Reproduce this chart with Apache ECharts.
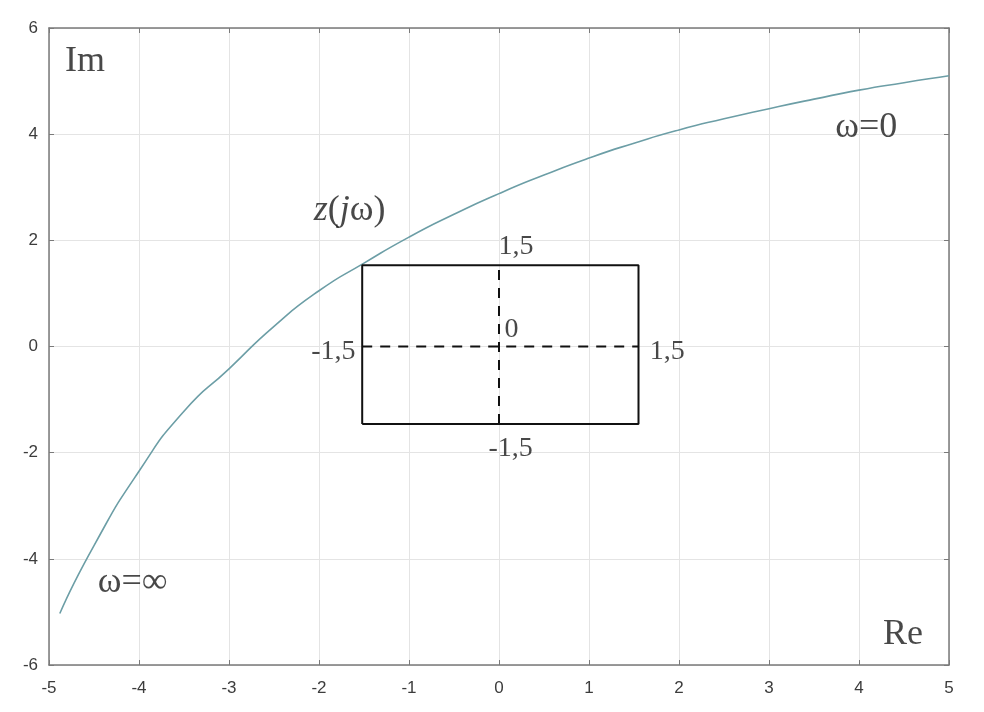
<!DOCTYPE html>
<html>
<head>
<meta charset="utf-8">
<script src="https://cdn.jsdelivr.net/npm/echarts@6/dist/echarts.min.js"></script>
<style>html,body{margin:0;padding:0;background:#fff}#c{width:984px;height:712px}</style>
</head>
<body>
<div id="c"></div>
<script>
const reValues = [-4.88, -4.5, -4.0, -3.5, -3.0, -2.5, -2.0, -1.5, -1.0, -0.5, 0.0, 0.5, 1.0, 1.5, 2.0, 2.5, 3.0, 3.5, 4.0, 4.5, 5.0];
const imValues = [-5.03, -3.75, -2.35, -1.22, -0.42, 0.38, 1.05, 1.57, 2.06, 2.49, 2.88, 3.23, 3.55, 3.83, 4.08, 4.29, 4.48, 4.66, 4.83, 4.97, 5.1];
// Rectangle bounds
const rectX = [-1.52, 1.55];
const rectY = [-1.46, 1.53];
// Tick labels
const xTicks = [-5, -4, -3, -2, -1, 0, 1, 2, 3, 4, 5];
const yTicks = [-6, -4, -2, 0, 2, 4, 6];
// Text annotations [text, re, im]
const bigLabels = [["Im", -4.6, 5.36], ["Re", 4.49, -5.42], ["ω=0", 4.08, 4.12], ["ω=∞", -4.07, -4.44], ["{i|z}({i|j}ω)", -1.66, 2.57]];
const smallLabels = [["1,5", 0.19, 1.89], ["-1,5", -1.84, -0.1], ["0", 0.14, 0.31], ["1,5", 1.87, -0.1], ["-1,5", 0.13, -1.93]];

const curve = reValues.map((r, i) => [r, imValues[i]]);
const rect = [[rectX[0], rectY[0]], [rectX[1], rectY[0]], [rectX[1], rectY[1]], [rectX[0], rectY[1]], [rectX[0], rectY[0]]];
const hDash = [[rectX[0], 0], [rectX[1], 0]];
const vDash = [[0, rectY[0]], [0, rectY[1]]];

const axisCol = '#7a7a7a';
const gridCol = '#e4e4e4';
const tickFont = {color: '#3c3c3c', fontSize: 17, fontFamily: "'Liberation Sans', Arial, sans-serif"};

function mkX(pos, show) {
  return {type: 'value', min: xTicks[0], max: xTicks[xTicks.length-1], interval: 1, position: pos,
    axisLine: {show: true, onZero: false, lineStyle: {color: axisCol, width: 1.5}},
    axisTick: {show: true, inside: true, length: 5, lineStyle: {color: axisCol}},
    splitLine: {show: show, lineStyle: {color: gridCol, width: 1}},
    axisLabel: {show: show, margin: 15, ...tickFont}};
}
function mkY(pos, show) {
  return {type: 'value', min: yTicks[0], max: yTicks[yTicks.length-1], interval: 2, position: pos,
    axisLine: {show: true, onZero: false, lineStyle: {color: axisCol, width: 1.5}},
    axisTick: {show: true, inside: true, length: 5, lineStyle: {color: axisCol}},
    splitLine: {show: show, lineStyle: {color: gridCol, width: 1}},
    axisLabel: {show: show, margin: 11, ...tickFont}};
}

const serif = "'Liberation Serif', 'Times New Roman', serif";
const chart = echarts.init(document.getElementById('c'));
chart.setOption({
  animation: false,
  backgroundColor: '#fff',
  grid: {left: 49, right: 35, top: 28, bottom: 47},
  xAxis: [mkX('bottom', true), mkX('top', false)],
  yAxis: [mkY('left', true), mkY('right', false)],
  series: [
    {type: 'line', data: curve, smooth: 0.6, showSymbol: false, lineStyle: {color: '#6c9ea6', width: 1.6}, z: 3},
    {type: 'line', data: rect, showSymbol: false, lineStyle: {color: '#111', width: 2}, z: 4},
    {type: 'line', data: hDash, showSymbol: false, lineStyle: {color: '#111', width: 2, type: [10, 8]}, z: 4},
    {type: 'line', data: vDash, showSymbol: false, lineStyle: {color: '#111', width: 2, type: [10, 8]}, z: 4},
    {type: 'scatter', symbolSize: 0, z: 5,
      data: bigLabels.map(l => ({value: [l[1], l[2]], name: l[0]})),
      label: {show: true, position: 'inside', formatter: p => p.name, color: '#1a1a1a', fontSize: 36, fontFamily: serif,
        rich: {i: {fontStyle: 'italic', fontSize: 36, fontFamily: serif, color: '#1a1a1a'}}}},
    {type: 'scatter', symbolSize: 0, z: 5,
      data: smallLabels.map(l => ({value: [l[1], l[2]], name: l[0]})),
      label: {show: true, position: 'inside', formatter: p => p.name, color: '#1a1a1a', fontSize: 28, fontFamily: serif}}
  ]
});
</script>
</body>
</html>
